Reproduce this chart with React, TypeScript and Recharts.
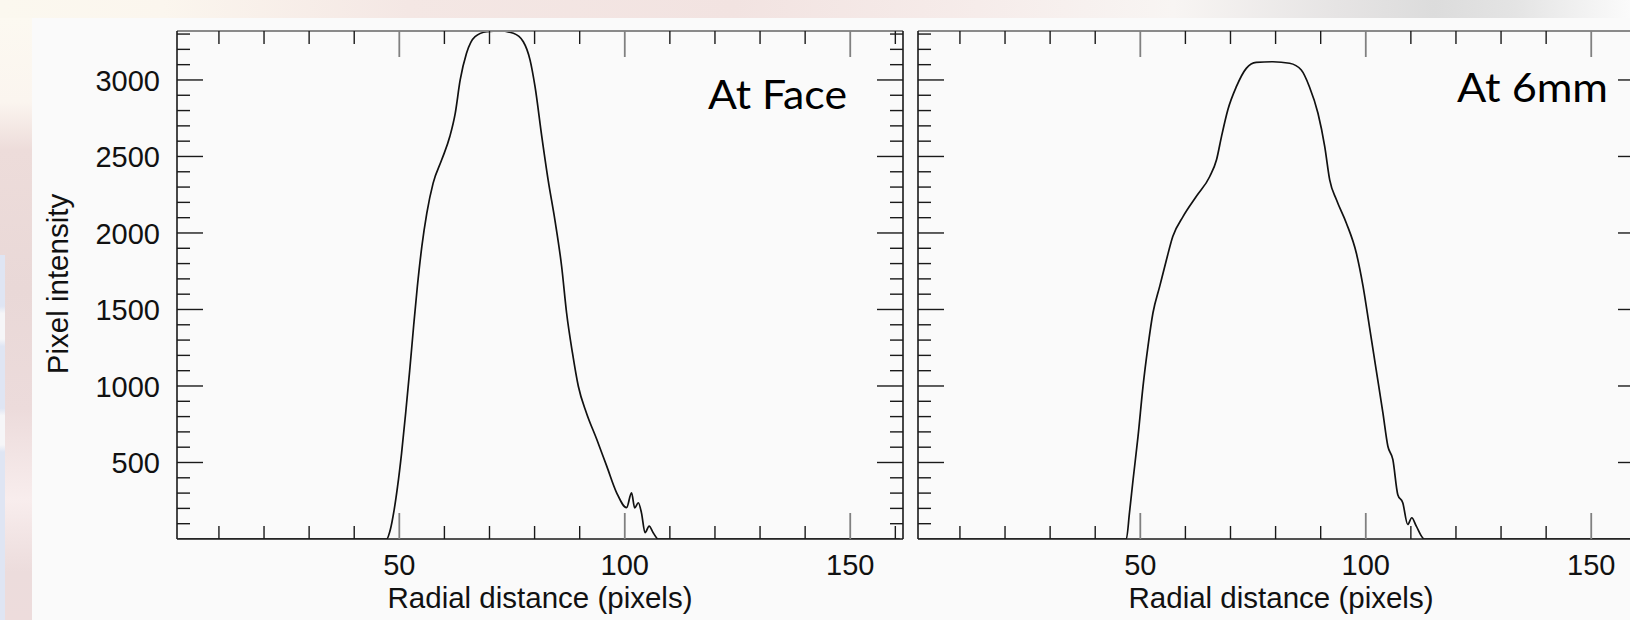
import { LineChart, Line, XAxis, YAxis } from "recharts";

// tick positions (minor every 10 / 100, labelled every 50 / 500)
const xTicks = [10, 20, 30, 40, 50, 60, 70, 80, 90, 100, 110, 120, 130, 140, 150, 160];
const yTicks = [
  100, 200, 300, 400, 500, 600, 700, 800, 900, 1000, 1100, 1200, 1300, 1400, 1500, 1600,
  1700, 1800, 1900, 2000, 2100, 2200, 2300, 2400, 2500, 2600, 2700, 2800, 2900, 3000,
  3100, 3200, 3300,
];
const xLabelTicks = [50, 100, 150];
const yLabelTicks = [500, 1000, 1500, 2000, 2500, 3000];

const xDomain: [number, number] = [0.7, 161.7];
const yDomain: [number, number] = [0, 3320];

// profile at the face
const faceX = [
  1, 46, 47.2, 48.0, 48.8, 49.6, 50.5, 51.4, 52.3, 53.2, 54.0, 55.0, 56.1, 57.5, 59.4, 61.2,
  62.4, 63.5, 64.9, 66.8, 69.4, 72.3, 75.3, 77.5, 79.0, 80.1, 81.6, 83.0, 84.5, 86.0, 87.1,
  88.4, 89.7, 91.5, 93.8, 96.0, 98.2, 100.4, 101.5, 102.2, 103.0, 103.7, 104.5, 105.4, 106.3,
  107.4, 161,
];
const faceY = [
  0, 0, 0, 60, 180, 340, 560, 820, 1100, 1400, 1650, 1912, 2130, 2326, 2478, 2630,
  2782, 3000, 3174, 3283, 3315, 3320, 3305, 3250, 3130, 2956, 2630, 2347, 2086, 1781, 1477,
  1216, 998, 824, 650, 476, 302, 205, 302, 204, 237, 171, 41, 84, 41,
  0, 0,
];

// profile at 6mm
const mm6X = [
  1, 46.9, 47.6, 48.4, 49.5, 50.6, 51.7, 52.8, 54.3, 55.8, 57.2, 59.5, 62.4, 65.4, 66.9,
  68.0, 69.4, 71.3, 73.5, 75.7, 79.4, 83.1, 85.7, 87.5, 89.4, 90.9, 92.0, 93.5, 95.7, 97.9,
  99.4, 100.8, 102.3, 103.8, 104.9, 106.0, 107.1, 108.2, 109.3, 110.2, 111.2, 113.0, 161,
];
const mm6Y = [
  0, 0, 172, 389, 672, 998, 1259, 1477, 1651, 1825, 1977, 2108, 2238, 2369, 2478,
  2630, 2804, 2956, 3076, 3115, 3119, 3109, 3065, 2956, 2782, 2565, 2347, 2217, 2064, 1869,
  1651, 1390, 1107, 824, 606, 520, 290, 237, 95, 139, 84, 0, 0,
];

const FONT = "'Liberation Sans', Arial, Helvetica, sans-serif";
const TITLE_FONT = "Lato, 'Open Sans', sans-serif";
const MAJOR = 26;
const MINOR = 13;

const frame = { stroke: "#1a1a1a", strokeWidth: 1.6 };
const frameTop = { stroke: "#8a8a8a", strokeWidth: 2 };

function BottomTick(props: any) {
  const { x, y, payload, showLabel } = props;
  const major = xLabelTicks.includes(payload.value);
  return (
    <g>
      <line
        x1={x}
        x2={x}
        y1={y}
        y2={y - (major ? MAJOR : MINOR)}
        stroke={major ? "#808080" : "#1a1a1a"}
        strokeWidth={major ? 1.8 : 1.4}
      />
      {showLabel && major && (
        <text x={x} y={y + 36} textAnchor="middle" fontSize={29} fontFamily={FONT} fill="#111">
          {payload.value}
        </text>
      )}
    </g>
  );
}

function TopTick(props: any) {
  const { x, y, payload } = props;
  const major = xLabelTicks.includes(payload.value);
  return (
    <line
      x1={x}
      x2={x}
      y1={y}
      y2={y + (major ? MAJOR : MINOR)}
      stroke={major ? "#808080" : "#1a1a1a"}
      strokeWidth={major ? 1.8 : 1.4}
    />
  );
}

function LeftTick(props: any) {
  const { x, y, payload, showLabel } = props;
  const major = yLabelTicks.includes(payload.value);
  return (
    <g>
      <line x1={x} x2={x + (major ? MAJOR : MINOR)} y1={y} y2={y} stroke="#1a1a1a" strokeWidth={1.4} />
      {showLabel && major && (
        <text x={x - 17} y={y + 11} textAnchor="end" fontSize={29} fontFamily={FONT} fill="#111">
          {payload.value}
        </text>
      )}
    </g>
  );
}

function RightTick(props: any) {
  const { x, y, payload } = props;
  const major = yLabelTicks.includes(payload.value);
  return <line x1={x} x2={x - (major ? MAJOR : MINOR)} y1={y} y2={y} stroke="#1a1a1a" strokeWidth={1.4} />;
}

function Panel({
  xs,
  ys,
  width,
  leftWidth,
  rightMargin,
  labels,
}: {
  xs: number[];
  ys: number[];
  width: number;
  leftWidth: number;
  rightMargin: number;
  labels: boolean;
}) {
  const data = xs.map((x, i) => ({ x, y: ys[i] }));
  return (
    <LineChart width={width} height={620} data={data} margin={{ top: 30, right: rightMargin, bottom: 0, left: 0 }}>
      <XAxis
        dataKey="x"
        type="number"
        domain={xDomain}
        allowDataOverflow
        ticks={xTicks}
        interval={0}
        height={81}
        tickSize={0}
        tickMargin={0}
        axisLine={frame}
        tickLine={false}
        tick={(p: any) => <BottomTick {...p} showLabel />}
      />
      <XAxis
        xAxisId="top"
        dataKey="x"
        orientation="top"
        type="number"
        domain={xDomain}
        allowDataOverflow
        ticks={xTicks}
        interval={0}
        height={1}
        tickSize={0}
        tickMargin={0}
        axisLine={frameTop}
        tickLine={false}
        tick={(p: any) => <TopTick {...p} />}
      />
      <YAxis
        type="number"
        domain={yDomain}
        allowDataOverflow
        ticks={yTicks}
        interval={0}
        width={leftWidth}
        tickSize={0}
        tickMargin={0}
        axisLine={frame}
        tickLine={false}
        tick={(p: any) => <LeftTick {...p} showLabel={labels} />}
      />
      <YAxis
        yAxisId="right"
        orientation="right"
        type="number"
        domain={yDomain}
        allowDataOverflow
        ticks={yTicks}
        interval={0}
        width={1}
        tickSize={0}
        tickMargin={0}
        axisLine={frame}
        tickLine={false}
        tick={(p: any) => <RightTick {...p} />}
      />
      {/* invisible copy so the mirrored top / right axes get drawn */}
      <Line
        xAxisId="top"
        yAxisId="right"
        dataKey="y"
        type="monotone"
        stroke="transparent"
        strokeOpacity={0}
        dot={false}
        activeDot={false}
        isAnimationActive={false}
      />
      <Line
        dataKey="y"
        type="monotone"
        stroke="#111"
        strokeWidth={1.7}
        dot={false}
        activeDot={false}
        isAnimationActive={false}
      />
    </LineChart>
  );
}

export default function App() {
  return (
    <div
      style={{
        position: "fixed",
        left: 0,
        top: 0,
        width: 1630,
        height: 620,
        overflow: "hidden",
        background: "#fafafa",
      }}
    >
      {/* slide background peeking round the pasted plot */}
      <div
        style={{
          position: "absolute",
          left: 0,
          top: 0,
          width: 1630,
          height: 18,
          background:
            "linear-gradient(to right, #fbf8ef 0%, #fbf6ee 10%, #f4e7e4 25%, #f2e3e1 45%, #f6ecea 60%, #f8f5f3 72%, #e6e4e4 82%, #dcdcdc 88%, #e4e4e4 93%, #fbfbfb 100%)",
        }}
      />
      <div
        style={{
          position: "absolute",
          left: 0,
          top: 18,
          width: 32,
          height: 602,
          background:
            "linear-gradient(to bottom, #fcf9f1 0%, #fbf5ef 14%, #eddcda 22%, #e9d8d7 45%, #ecdbdb 65%, #f8eded 80%, #ecdcdc 92%, #eddcdc 100%)",
        }}
      />
      <div
        style={{
          position: "absolute",
          left: 0,
          top: 255,
          width: 5,
          height: 365,
          background:
            "linear-gradient(to bottom, #dfe5f3 0%, #dfe5f3 14%, #f6f6f8 16%, #f6f6f8 23%, #dfe5f3 25%, #dfe5f3 42%, #f6f6f8 44%, #f6f6f8 52%, #dfe5f3 54%, #dfe5f3 100%)",
        }}
      />
      <div style={{ position: "absolute", left: 0, top: 0 }}>
        <Panel xs={faceX} ys={faceY} width={910} leftWidth={177} rightMargin={6} labels />
      </div>
      <div style={{ position: "absolute", left: 910, top: 0 }}>
        <Panel xs={mm6X} ys={mm6Y} width={735} leftWidth={8} rightMargin={0} labels={false} />
      </div>
      <svg
        width={1630}
        height={620}
        style={{ position: "absolute", left: 0, top: 0, pointerEvents: "none" }}
      >
        <text
          transform="translate(68, 284) rotate(-90)"
          textAnchor="middle"
          fontSize={29.5}
          fontFamily={FONT}
          fill="#111"
        >
          Pixel intensity
        </text>
        <text x={540} y={608} textAnchor="middle" fontSize={29.5} fontFamily={FONT} fill="#111">
          Radial distance (pixels)
        </text>
        <text x={1281} y={608} textAnchor="middle" fontSize={29.5} fontFamily={FONT} fill="#111">
          Radial distance (pixels)
        </text>
        <text
          x={708}
          y={109}
          fontSize={41}
          fontFamily={TITLE_FONT}
          fill="#000"
          textLength={139}
          lengthAdjust="spacingAndGlyphs"
        >
          At Face
        </text>
        <text
          x={1457}
          y={102}
          fontSize={41}
          fontFamily={TITLE_FONT}
          fill="#000"
          textLength={151}
          lengthAdjust="spacingAndGlyphs"
        >
          At 6mm
        </text>
      </svg>
    </div>
  );
}
